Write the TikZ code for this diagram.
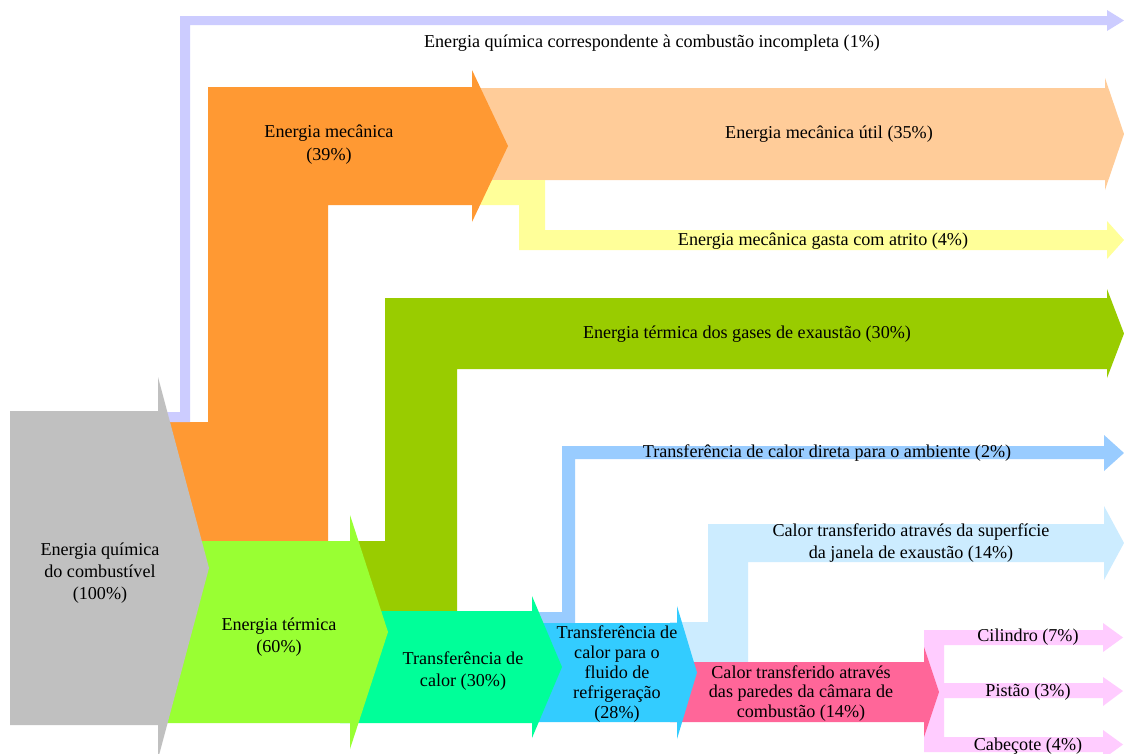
\documentclass[tikz,border=0pt]{standalone}
\usepackage{fontspec}
\setmainfont{Liberation Serif}
\definecolor{cgray}{HTML}{C0C0C0}
\definecolor{corange}{HTML}{FF9933}
\definecolor{cpeach}{HTML}{FFCC99}
\definecolor{cyellow}{HTML}{FFFF99}
\definecolor{cpurple}{HTML}{CCCCFF}
\definecolor{cgreen}{HTML}{99FF33}
\definecolor{colive}{HTML}{99CC00}
\definecolor{cteal}{HTML}{00FF99}
\definecolor{cblue}{HTML}{33CCFF}
\definecolor{clblue}{HTML}{99CCFF}
\definecolor{cvlblue}{HTML}{CCECFF}
\definecolor{cpink}{HTML}{FF6699}
\definecolor{clpink}{HTML}{FFCCFF}
\tikzset{
  lbl/.style={align=center, inner sep=0pt, text=black, font=\fontsize{13.6}{16.5}\selectfont},
  flow/.style={draw=none}
}
\begin{document}
\begin{tikzpicture}[x=0.75pt,y=-0.75pt]
\clip (0,0) rectangle (1124,753);
\fill[white] (0,0) rectangle (1124,753);
% peach: useful mechanical energy
\fill[cpeach] (472,88) -- (1105,88) -- (1105,78) -- (1124,134) -- (1105,190) -- (1105,180) -- (472,180) -- cycle;
% yellow: friction
\fill[cyellow] (472,180) -- (545,180) -- (545,230) -- (1107,230) -- (1107,221) -- (1124,240) -- (1107,259) -- (1107,250) -- (519,250) -- (519,205) -- (472,205) -- cycle;
% orange: mechanical energy
\fill[corange] (160,422) -- (208,422) -- (208,87) -- (472,87) -- (472,70) -- (508,146) -- (472,222) -- (472,205) -- (328,205) -- (328,541) -- (160,541) -- cycle;
% purple: incomplete combustion
\fill[cpurple] (160,412) -- (180,412) -- (180,16) -- (1107,16) -- (1107,10) -- (1124,20.5) -- (1107,31) -- (1107,25) -- (190,25) -- (190,422) -- (160,422) -- cycle;
% olive: exhaust gases
\fill[colive] (350,541) -- (385,541) -- (385,298) -- (1107,298) -- (1107,289) -- (1124,333.5) -- (1107,378) -- (1107,369) -- (457,369) -- (457,611) -- (350,611) -- cycle;
% light pink: cylinder, piston, head
\fill[clpink] (924,630) -- (1103,630) -- (1103,623) -- (1123,637.5) -- (1103,652) -- (1103,645) -- (944,645) -- (944,683) -- (1103,683) -- (1103,677) -- (1123,691) -- (1103,706) -- (1103,698) -- (944,698) -- (944,737) -- (1103,737) -- (1103,730) -- (1123,744.5) -- (1103,759) -- (1103,752) -- (924,752) -- cycle;
% very light blue: exhaust port surface
\fill[cvlblue] (670,622) -- (708,622) -- (708,524) -- (1104,524) -- (1104,506) -- (1124,543) -- (1104,580) -- (1104,562) -- (748,562) -- (748,662) -- (670,662) -- cycle;
% pink: combustion chamber walls
\fill[cpink] (670,662) -- (924,662) -- (924,647) -- (939,692) -- (924,737) -- (924,722) -- (670,722) -- cycle;
% light blue: direct to ambient
\fill[clblue] (525,612) -- (562,612) -- (562,446) -- (1104,446) -- (1104,435) -- (1124,453) -- (1104,471) -- (1104,459) -- (575,459) -- (575,623) -- (525,623) -- cycle;
% blue: coolant
\fill[cblue] (525,623) -- (677,623) -- (677,606) -- (697,672.5) -- (677,739) -- (677,722) -- (525,722) -- cycle;
% teal: heat transfer
\fill[cteal] (340,611) -- (532,611) -- (532,596) -- (562,667) -- (532,738) -- (532,723) -- (340,723) -- cycle;
% green: thermal energy
\fill[cgreen] (160,541) -- (350,541) -- (350,515) -- (388,632) -- (350,749) -- (350,723) -- (160,723) -- cycle;
% gray: fuel chemical energy
\fill[cgray] (10,411) -- (158,411) -- (158,377) -- (209,568) -- (158,759) -- (158,725) -- (10,725) -- cycle;

% labels
\node[lbl] (tIncomp) at (652,43) {Energia química correspondente à combustão incompleta (1\%)};
\node[lbl, font=\fontsize{13.6}{17.2}\selectfont] (tMec) at (329,145) {Energia mecânica\\(39\%)};
\node[lbl] (tUtil) at (829,134) {Energia mecânica útil (35\%)};
\node[lbl] (tAtrito) at (823,241) {Energia mecânica gasta com atrito (4\%)};
\node[lbl] (tExaust) at (747,334) {Energia térmica dos gases de exaustão (30\%)};
\node[lbl] (tAmb) at (827,453) {Transferência de calor direta para o ambiente (2\%)};
\node[lbl] (tJanela) at (911,543) {Calor transferido através da superfície\\da janela de exaustão (14\%)};
\node[lbl] (tComb) at (100,573) {Energia química\\do combustível\\(100\%)};
\node[lbl] (tTerm) at (279,637) {Energia térmica\\(60\%)};
\node[lbl] (tTransf) at (463,671) {Transferência de\\calor (30\%)};
\node[lbl, font=\fontsize{13.6}{15}\selectfont] (tFluido) at (617,674) {Transferência de\\calor para o\\fluido de\\refrigeração\\(28\%)};
\node[lbl, font=\fontsize{13.6}{14.6}\selectfont] (tParedes) at (801,693.5) {Calor transferido através\\das paredes da câmara de\\combustão (14\%)};
\node[lbl] (tCil) at (1028,637) {Cilindro (7\%)};
\node[lbl] (tPist) at (1028,692) {Pistão (3\%)};
\node[lbl] (tCab) at (1028,746) {Cabeçote (4\%)};
\end{tikzpicture}
\end{document}
